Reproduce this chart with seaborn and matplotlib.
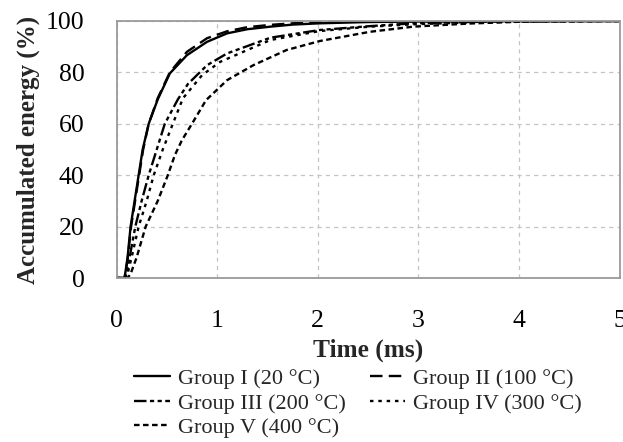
import numpy as np
import pandas as pd
import matplotlib
matplotlib.use("Agg")
import matplotlib.pyplot as plt
import seaborn as sns
from matplotlib.ticker import MultipleLocator

# ---- data ----
labels = ["Group I (20 °C)", "Group II (100 °C)", "Group III (200 °C)",
          "Group IV (300 °C)", "Group V (400 °C)"]

t_g1 = [0, 0.08, 0.11, 0.14, 0.18, 0.22, 0.26, 0.32, 0.41, 0.53, 0.70, 0.90, 1.10, 1.30, 1.53, 1.75, 2.02, 2.5, 3.0, 4.0, 5.0]
e_g1 = [0, 0, 8, 20, 30, 40, 50, 60, 69.5, 79.6, 86.7, 91.9, 95.2, 96.8, 97.8, 98.6, 99.1, 99.6, 99.8, 100, 100]

t_g2 = [0, 0.08, 0.11, 0.145, 0.185, 0.225, 0.265, 0.32, 0.41, 0.53, 0.70, 0.90, 1.10, 1.30, 1.53, 1.75, 2.02, 2.5, 3.0, 4.0, 5.0]
e_g2 = [0, 0, 7, 20, 30, 40, 50, 60, 70, 80, 88, 93.3, 96, 97.6, 98.5, 99.1, 99.5, 99.8, 99.9, 100, 100]

t_g3 = [0, 0.09, 0.13, 0.187, 0.25, 0.32, 0.40, 0.48, 0.61, 0.71, 0.90, 1.10, 1.53, 2.02, 2.52, 2.95, 3.5, 4.0, 5.0]
e_g3 = [0, 0, 8, 20, 30, 40, 50, 60, 69.5, 75.5, 82.8, 87.4, 93.5, 96.5, 98, 99.1, 99.6, 99.9, 100]

t_g4 = [0, 0.10, 0.15, 0.22, 0.30, 0.37, 0.46, 0.56, 0.66, 0.85, 1.03, 1.53, 2.02, 2.52, 3.0, 3.5, 4.0, 5.0]
e_g4 = [0, 0, 8, 20, 30, 40, 50, 60, 69.9, 78.9, 84.1, 92.6, 96.1, 97.8, 98.8, 99.4, 99.8, 100]

t_g5 = [0, 0.11, 0.14, 0.20, 0.29, 0.41, 0.51, 0.58, 0.65, 0.75, 0.89, 1.03, 1.10, 1.36, 1.69, 2.02, 2.52, 2.95, 3.5, 4.0, 5.0]
e_g5 = [0, 0, 1.6, 8, 20, 30, 40, 47.8, 53.6, 60, 69.2, 74.4, 77, 82.8, 88.7, 92.2, 95.8, 97.8, 99, 99.7, 100]

series = [(t_g1, e_g1), (t_g2, e_g2), (t_g3, e_g3), (t_g4, e_g4), (t_g5, e_g5)]
frames = []
for lab, (t, e) in zip(labels, series):
    frames.append(pd.DataFrame({"Time": t, "Energy": e, "Group": lab}))
df = pd.concat(frames, ignore_index=True)

# ---- style ----
sns.set_style("white")
plt.rcParams["font.family"] = ["Liberation Serif", "DejaVu Serif"]
plt.rcParams["lines.scale_dashes"] = False

dash_styles = {
    labels[0]: "",
    labels[1]: (9, 4.5),
    labels[2]: (9, 2.5, 3, 2.5, 3, 2.5),
    labels[3]: (2.5, 3.5),
    labels[4]: (4, 2.5),
}

fig = plt.figure(figsize=(6.23, 4.42), dpi=100)
ax = fig.add_axes([0.187, 0.371, 0.8074, 0.5815])

sns.lineplot(data=df, x="Time", y="Energy", hue="Group", style="Group",
             hue_order=labels, style_order=labels,
             palette=["black"] * 5, dashes=dash_styles, linewidth=1.7,
             sort=False, estimator=None, ax=ax, legend=True)

ax.set_xlim(0, 5)
ax.set_ylim(0, 100)
ax.xaxis.set_major_locator(MultipleLocator(1))
ax.xaxis.set_minor_locator(MultipleLocator(0.5))
ax.yaxis.set_major_locator(MultipleLocator(20))
ax.yaxis.set_minor_locator(MultipleLocator(10))

ax.grid(True, which="major", color="#c4c4c4", linestyle=(0, (3, 3)), linewidth=0.9)
for sp in ax.spines.values():
    sp.set_color("#9a9a9a")
    sp.set_linewidth(1.3)

ax.tick_params(which="major", direction="out", length=11, width=1.1,
               color="#9a9a9a", labelsize=18.5, labelcolor="black")
ax.tick_params(axis="x", which="major", pad=12)
ax.tick_params(axis="y", which="major", pad=12)
ax.tick_params(which="minor", direction="out", length=5, width=1.1,
               color="#9a9a9a")

ax.set_xlabel("Time (ms)", fontsize=18.3, fontweight="bold", labelpad=5)
ax.set_ylabel("Accumulated energy (%)", fontsize=18, fontweight="bold", labelpad=4)

handles, labs = ax.get_legend_handles_labels()
ax.legend_.remove()
hmap = dict(zip(labs, handles))
order = [labels[0], labels[2], labels[4], labels[1], labels[3]]
fig.legend([hmap[l] for l in order], order, loc="upper left",
           bbox_to_anchor=(0.215, 0.166),
           ncol=2, frameon=False, fontsize=16, handlelength=1.6,
           handletextpad=0.36, columnspacing=1.1, labelspacing=0.17,
           borderpad=0, borderaxespad=0)

fig.savefig("out.png", dpi=100)
